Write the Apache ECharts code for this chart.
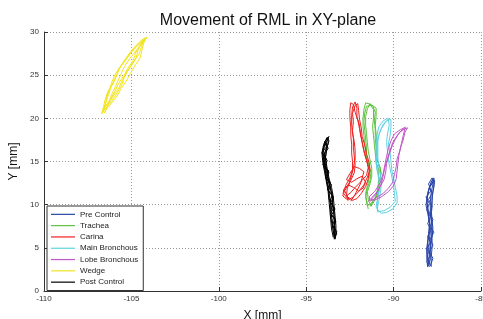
<!DOCTYPE html>
<html>
<head>
<meta charset="utf-8">
<script src="https://cdn.jsdelivr.net/npm/echarts@6/dist/echarts.min.js"></script>
<style>
html,body{margin:0;padding:0;background:#fff;}
#c{width:483px;height:319px;}
</style>
</head>
<body>
<div id="c"></div>
<script>
var titleText = 'Movement of RML in XY-plane';
var xName = 'X [mm]';
var yName = 'Y [mm]';
var seriesNames = ['Pre Control','Trachea','Carina','Main Bronchous','Lobe Bronchous','Wedge','Post Control'];

var preControl = [
[-87.85,2.8],[-87.85,3.9],[-87.8,5.0],[-87.8,6.1],[-87.75,7.2],[-87.8,8.3],[-87.85,9.4],[-87.8,10.5],[-87.75,11.6],[-87.65,12.6],[-87.7,13.1],
[-87.85,12.6],[-88.0,11.7],[-88.1,10.7],[-88.05,9.7],[-88.0,8.7],[-87.95,7.7],[-88.0,6.7],[-88.05,5.7],[-88.1,4.6],[-88.1,3.6],[-88.05,2.8],
[-87.95,2.7],[-87.9,3.7],[-87.9,4.8],[-87.85,5.9],[-87.85,7.0],[-87.85,8.1],[-87.9,9.2],[-87.9,10.3],[-87.85,11.4],[-87.75,12.4],[-87.75,13.0],
[-87.9,12.3],[-88.05,11.3],[-88.1,10.2],[-88.0,9.1],[-87.95,8.0],[-87.9,7.0],[-87.95,6.0],[-88.0,5.0],[-88.05,4.0],[-88.0,3.0],
[-88.0,3.2],[-87.95,4.3],[-87.9,5.4],[-87.8,6.5],[-87.8,7.6],[-87.85,8.7],[-87.8,9.8],[-87.8,10.9],[-87.7,12.0],[-87.7,12.8],
[-87.8,12.9],[-87.95,12.0],[-88.05,11.0],[-88.15,10.0],[-88.05,9.0],[-87.95,8.0],[-87.95,6.9],[-88.05,5.8],[-88.1,4.8],[-88.05,3.8],[-87.9,2.9],
[-87.9,3.1],[-87.75,3.8],[-87.95,4.5],[-87.75,5.3],[-87.9,6.0],[-87.7,6.8],[-87.9,7.5],[-87.75,8.3],[-87.95,9.0],[-87.8,9.8],[-88.0,10.6],[-87.8,11.3],[-87.95,12.0],[-87.7,12.7],[-87.8,13.1],
[-88.0,12.4],[-87.85,11.6],[-88.15,10.9],[-87.95,10.1],[-88.1,9.4],[-87.9,8.6],[-88.05,7.8],[-87.85,7.1],[-88.05,6.3],[-87.9,5.6],[-88.1,4.9],[-87.9,4.1],[-88.1,3.4],[-87.95,2.8]
];

var trachea = [
[-91.45,9.5],[-91.55,10.4],[-91.6,11.3],[-91.5,12.2],[-91.4,13.1],[-91.35,14.0],[-91.5,15.0],[-91.6,16.0],[-91.65,17.0],[-91.7,18.0],[-91.75,19.0],[-91.75,20.0],[-91.7,21.0],[-91.6,21.8],
[-91.3,21.6],[-91.0,21.2],[-91.0,20.2],[-91.05,19.2],[-91.0,18.2],[-90.95,17.2],[-90.95,16.2],[-90.95,15.2],[-90.75,14.2],[-90.75,13.2],[-90.8,12.2],[-90.9,11.3],[-91.1,10.4],[-91.3,9.8],
[-91.4,9.7],[-91.45,10.6],[-91.5,11.5],[-91.35,12.4],[-91.25,13.3],[-91.25,14.2],[-91.35,15.2],[-91.45,16.2],[-91.5,17.2],[-91.55,18.2],[-91.6,19.2],[-91.6,20.2],[-91.5,21.1],[-91.35,21.7],
[-91.15,21.0],[-91.15,20.0],[-91.2,19.0],[-91.15,18.0],[-91.1,17.0],[-91.05,16.0],[-91.0,15.0],[-90.85,14.0],[-90.85,13.0],[-90.9,12.0],[-91.0,11.0],[-91.25,10.1],
[-91.5,9.9],[-91.6,10.9],[-91.5,11.9],[-91.35,12.8],[-91.3,13.7],[-91.4,14.6],[-91.55,15.6],[-91.55,16.6],[-91.6,17.6],[-91.65,18.6],[-91.7,19.6],[-91.65,20.6],[-91.55,21.4],
[-91.2,21.5],[-91.05,20.7],[-91.1,19.7],[-91.05,18.7],[-91.05,17.7],[-91.0,16.7],[-91.0,15.7],[-90.85,14.7],[-90.7,13.7],[-90.8,12.7],[-90.85,11.7],[-91.05,10.8],[-91.35,10.0]
];

var carina = [
[-92.6,10.6],[-92.85,11.3],[-92.75,12.2],[-92.5,13.1],[-92.35,14.0],[-92.35,15.0],[-92.4,16.0],[-92.4,17.0],[-92.45,18.0],[-92.45,19.0],[-92.5,20.0],[-92.5,21.0],[-92.45,21.8],
[-92.3,21.6],[-92.2,20.7],[-92.05,19.8],[-91.95,18.8],[-91.85,17.8],[-91.75,16.8],[-91.65,15.8],[-91.5,14.8],[-91.4,13.9],[-91.45,13.0],[-91.6,12.1],[-91.85,11.3],[-92.1,10.7],[-92.35,10.5],
[-92.7,11.0],[-92.65,11.9],[-92.45,12.8],[-92.25,13.7],[-92.2,14.6],[-92.25,15.6],[-92.3,16.6],[-92.3,17.6],[-92.35,18.6],[-92.3,19.6],[-92.35,20.6],[-92.2,21.5],[-92.05,21.7],
[-92.0,20.9],[-91.95,19.9],[-91.85,18.9],[-91.8,17.9],[-91.65,16.9],[-91.55,15.9],[-91.4,14.9],[-91.35,14.0],[-91.5,13.2],[-91.7,12.3],[-92.0,11.5],[-92.3,10.9],[-92.55,10.6],
[-92.8,11.6],[-92.55,12.5],[-92.4,13.4],[-92.3,14.3],[-92.2,15.3],[-92.2,16.3],[-92.25,17.3],[-92.35,18.3],[-92.4,19.3],[-92.4,20.3],[-92.35,21.3],[-92.2,21.9],
[-92.1,21.2],[-92.1,20.2],[-91.95,19.2],[-91.9,18.2],[-91.8,17.2],[-91.7,16.2],[-91.55,15.2],[-91.45,14.3],[-91.55,13.4],[-91.9,12.6],[-92.2,12.0],[-92.45,11.4],[-92.65,11.1],
[-92.6,10.5],[-92.9,11.0],[-92.85,11.8],[-92.6,12.3],[-92.3,12.0],[-92.0,11.6],[-91.75,11.9],[-91.6,12.6],[-91.8,13.3],[-92.1,13.0],[-92.4,12.6],[-92.7,12.9],[-92.5,13.6],[-92.25,14.4],[-91.95,14.2],[-91.7,13.8],[-91.9,12.4],[-92.2,11.2],[-92.45,10.4]
];

var mainBronchous = [
[-90.9,9.1],[-90.95,10.0],[-90.9,11.0],[-90.8,12.0],[-90.85,13.0],[-90.95,14.0],[-91.0,15.0],[-91.0,16.0],[-91.0,17.0],[-90.95,18.0],[-90.85,19.0],[-90.6,19.7],[-90.35,20.0],
[-90.15,19.8],[-90.15,19.0],[-90.2,18.0],[-90.3,17.0],[-90.2,16.0],[-90.15,15.0],[-90.1,14.0],[-90.0,13.0],[-89.9,12.0],[-89.8,11.0],[-89.8,10.2],[-90.05,9.5],[-90.4,9.1],[-90.7,9.0],
[-90.95,9.4],[-90.85,10.4],[-90.75,11.4],[-90.7,12.4],[-90.75,13.4],[-90.85,14.4],[-90.9,15.4],[-90.9,16.4],[-90.9,17.4],[-90.8,18.4],[-90.6,19.3],[-90.3,19.9],
[-90.25,19.2],[-90.35,18.2],[-90.4,17.2],[-90.35,16.2],[-90.3,15.2],[-90.2,14.2],[-90.1,13.2],[-90.0,12.2],[-89.95,11.2],[-89.9,10.4],[-90.2,9.7],[-90.55,9.3],[-90.85,9.2],
[-91.0,9.8],[-90.9,10.8],[-90.8,11.8],[-90.8,12.8],[-90.9,13.8],[-91.0,14.8],[-90.95,15.8],[-90.95,16.8],[-90.9,17.8],[-90.7,18.8],[-90.45,19.6],[-90.2,20.0]
];

var lobeBronchous = [
[-91.5,10.3],[-91.2,10.9],[-90.9,11.6],[-90.7,12.4],[-90.6,13.3],[-90.5,14.3],[-90.35,15.3],[-90.2,16.3],[-90.05,17.2],[-89.8,18.0],[-89.5,18.7],[-89.2,18.9],
[-89.35,18.4],[-89.45,17.5],[-89.6,16.6],[-89.7,15.7],[-89.75,14.8],[-89.8,13.9],[-89.85,13.0],[-90.0,12.2],[-90.3,11.5],[-90.7,10.9],[-91.1,10.5],
[-91.3,10.6],[-91.0,11.2],[-90.8,12.0],[-90.55,12.9],[-90.45,13.8],[-90.4,14.8],[-90.25,15.8],[-90.1,16.7],[-89.9,17.6],[-89.65,18.4],[-89.35,18.8],
[-89.45,18.0],[-89.55,17.1],[-89.65,16.2],[-89.8,15.3],[-89.85,14.4],[-89.95,13.5],[-90.05,12.6],[-90.3,11.9],[-90.6,11.3],[-91.0,10.8],[-91.35,10.4],
[-91.4,10.9],[-91.05,11.6],[-90.75,12.6],[-90.6,13.6],[-90.5,14.6],[-90.4,15.6],[-90.3,16.5],[-90.15,17.4],[-89.95,18.2],[-89.6,18.7],[-89.3,19.0]
];

var wedge = [
[-106.6,20.7],[-106.5,21.6],[-106.4,22.5],[-106.25,23.4],[-106.1,24.3],[-105.9,25.2],[-105.6,26.1],[-105.25,27.0],[-104.9,27.9],[-104.5,28.7],[-104.15,29.3],
[-104.3,28.7],[-104.4,27.9],[-104.5,27.0],[-104.8,26.1],[-105.05,25.2],[-105.3,24.3],[-105.6,23.4],[-105.85,22.5],[-106.2,21.6],[-106.45,21.0],
[-106.55,20.6],[-106.35,21.5],[-106.2,22.4],[-106.0,23.3],[-105.8,24.2],[-105.6,25.1],[-105.4,26.0],[-105.1,26.9],[-104.75,27.8],[-104.4,28.6],[-104.1,29.4],
[-104.35,28.9],[-104.6,28.1],[-104.7,27.2],[-104.95,26.3],[-105.25,25.4],[-105.5,24.5],[-105.7,23.6],[-106.0,22.7],[-106.3,21.8],[-106.55,21.2],
[-106.7,20.5],[-106.6,21.3],[-106.5,22.2],[-106.35,23.1],[-106.05,24.0],[-105.85,24.9],[-105.7,25.8],[-105.35,26.7],[-105.05,27.6],[-104.7,28.4],[-104.3,29.1],
[-104.4,28.4],[-104.55,27.5],[-104.85,26.6],[-105.15,25.7],[-105.4,24.8],[-105.55,23.9],[-105.8,23.0],[-106.1,22.1],[-106.4,21.3],
[-106.6,20.9],[-106.45,21.9],[-106.3,22.8],[-106.15,23.7],[-105.95,24.6],[-105.75,25.5],[-105.5,26.4],[-105.2,27.3],[-104.85,28.2],[-104.45,29.0],[-104.2,29.35],
[-104.5,28.5],[-104.75,27.6],[-104.9,26.7],[-105.2,25.8],[-105.45,24.9],[-105.75,24.0],[-105.95,23.1],[-106.2,22.2],[-106.5,21.4],[-106.6,20.8]
];

var postControl = [
[-93.45,6.2],[-93.55,7.2],[-93.6,8.3],[-93.65,9.4],[-93.7,10.5],[-93.75,11.6],[-93.85,12.7],[-93.95,13.8],[-94.05,14.9],[-94.1,16.0],[-94.0,17.0],[-93.8,17.8],
[-93.7,17.4],[-93.85,16.4],[-93.9,15.3],[-93.8,14.2],[-93.7,13.1],[-93.55,12.0],[-93.45,10.9],[-93.4,9.8],[-93.35,8.7],[-93.3,7.6],[-93.3,6.5],
[-93.35,6.0],[-93.45,7.0],[-93.5,8.1],[-93.6,9.2],[-93.6,10.3],[-93.7,11.4],[-93.8,12.5],[-93.9,13.6],[-94.0,14.7],[-94.05,15.8],[-93.95,16.9],[-93.75,17.7],
[-93.75,17.0],[-93.95,16.0],[-93.95,15.0],[-93.85,13.9],[-93.75,12.8],[-93.6,11.7],[-93.5,10.6],[-93.45,9.5],[-93.4,8.4],[-93.35,7.3],[-93.4,6.3],
[-93.5,6.4],[-93.5,7.5],[-93.6,8.6],[-93.55,9.7],[-93.7,10.8],[-93.7,11.9],[-93.85,13.0],[-93.9,14.1],[-94.0,15.2],[-94.05,16.3],[-93.9,17.3],
[-93.8,16.6],[-93.9,15.5],[-93.85,14.4],[-93.75,13.3],[-93.65,12.2],[-93.5,11.1],[-93.5,10.0],[-93.4,8.9],[-93.4,7.8],[-93.35,6.8],[-93.4,6.1],
[-93.4,6.2],[-93.25,6.9],[-93.5,7.6],[-93.35,8.3],[-93.6,9.0],[-93.4,9.7],[-93.65,10.4],[-93.5,11.1],[-93.8,11.8],[-93.6,12.5],[-93.9,13.2],[-93.7,13.9],[-94.05,14.6],[-93.85,15.3],[-94.1,16.0],[-93.85,16.7],[-93.95,17.3],[-93.7,17.9],
[-93.85,17.2],[-93.75,16.5],[-94.0,15.8],[-93.8,15.1],[-93.95,14.4],[-93.7,13.7],[-93.85,13.0],[-93.55,12.3],[-93.75,11.6],[-93.45,10.9],[-93.6,10.2],[-93.35,9.5],[-93.55,8.8],[-93.3,8.1],[-93.45,7.4],[-93.25,6.7],[-93.4,6.0]
];

var seriesData = [preControl, trachea, carina, mainBronchous, lobeBronchous, wedge, postControl];
var colors = ['#2a46a8','#5cc23e','#ee2020','#5ed2e2','#c056c6','#f2e41e','#000000'];

var chart = echarts.init(document.getElementById('c'), null, {renderer:'canvas'});
var series = seriesNames.map(function(n,i){
  return {
    name:n, type:'line', data:seriesData[i], showSymbol:false, symbol:'none',
    lineStyle:{color:colors[i], width:1}, itemStyle:{color:colors[i]},
    animation:false, z: 2
  };
});
var fontFam = 'Liberation Sans, Arial, Helvetica, sans-serif';
chart.setOption({
  backgroundColor:'#ffffff',
  animation:false,
  title:{text:titleText, left:263, top:8, textAlign:'center',
    textStyle:{fontFamily:fontFam, fontSize:16, fontWeight:'normal', color:'#111'}},
  grid:{left:44, right:2, top:32, bottom:28, containLabel:false, outerBoundsMode:'none'},
  legend:{
    orient:'vertical', left:47, top:206, data:seriesNames,
    icon:'rect', itemWidth:24, itemHeight:1.2, itemGap:0.6,
    padding:[3,5,3,4],
    backgroundColor:'#ffffff', borderColor:'#333', borderWidth:1,
    textStyle:{fontFamily:fontFam, fontSize:8, color:'#222', lineHeight:10.7},
    selectedMode:false
  },
  xAxis:{
    type:'value', min:-110, max:-85, interval:5,
    name:xName, nameLocation:'middle', nameGap:19,
    nameTextStyle:{fontFamily:fontFam, fontSize:12, color:'#111'},
    axisLine:{show:true, onZero:false, lineStyle:{color:'#333', width:1}},
    axisTick:{show:true, inside:true, length:4, lineStyle:{color:'#333'}},
    axisLabel:{fontFamily:fontFam, fontSize:8, color:'#333', margin:4, showMaxLabel:true, hideOverlap:false},
    splitLine:{show:true, lineStyle:{color:'#999', type:[1,2], width:1}}
  },
  yAxis:{
    type:'value', min:0, max:30, interval:5,
    name:yName, nameLocation:'middle', nameGap:21, nameRotate:90,
    nameTextStyle:{fontFamily:fontFam, fontSize:12, color:'#111'},
    axisLine:{show:true, onZero:false, lineStyle:{color:'#333', width:1}},
    axisTick:{show:true, inside:true, length:4, lineStyle:{color:'#333'}},
    axisLabel:{fontFamily:fontFam, fontSize:8, color:'#333', margin:5},
    splitLine:{show:true, lineStyle:{color:'#999', type:[1,2], width:1}}
  },
  series:series
});
</script>
</body>
</html>
